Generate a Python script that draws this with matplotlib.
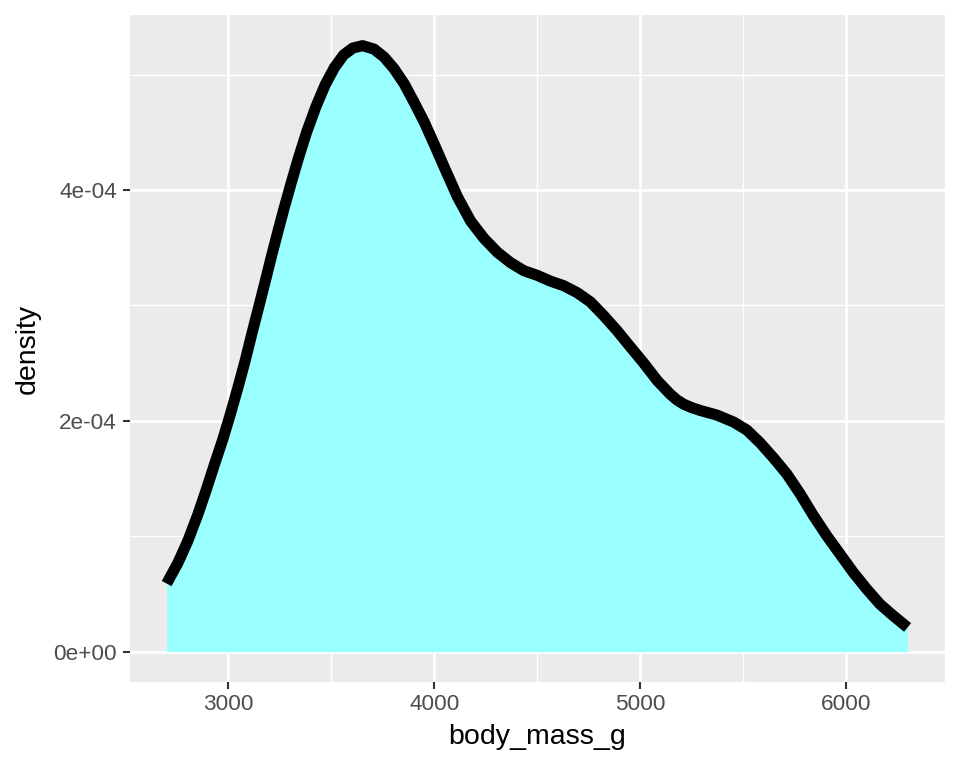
import matplotlib
matplotlib.use("Agg")
import matplotlib.pyplot as plt
from matplotlib.ticker import FixedLocator

plt.rcParams['font.family'] = ['Liberation Sans', 'DejaVu Sans']

body_mass_g = [2700, 2755, 2803, 2852, 2892, 2932, 2973, 3010, 3045, 3080,
               3112, 3145, 3178, 3210, 3242, 3272, 3305, 3341, 3380, 3425,
               3470, 3515, 3560, 3605, 3652, 3708, 3757, 3805, 3854, 3902,
               3951, 3999, 4048, 4113, 4177, 4242, 4307, 4371, 4436, 4501,
               4565, 4630, 4695, 4759, 4824, 4889, 4953, 5018, 5083, 5147,
               5180, 5211, 5250, 5292, 5373, 5454, 5519, 5583, 5648, 5713,
               5777, 5842, 5907, 5971, 6036, 6101, 6165, 6230, 6300]
density = [0.59, 0.77, 0.96, 1.19, 1.40, 1.62, 1.84, 2.06, 2.28, 2.51,
           2.74, 2.97, 3.20, 3.43, 3.65, 3.85, 4.06, 4.28, 4.50, 4.72,
           4.91, 5.06, 5.17, 5.23, 5.25, 5.22, 5.15, 5.05, 4.92, 4.76,
           4.59, 4.40, 4.20, 3.94, 3.73, 3.58, 3.46, 3.37, 3.30, 3.26,
           3.21, 3.17, 3.11, 3.03, 2.91, 2.78, 2.64, 2.50, 2.35, 2.23,
           2.18, 2.145, 2.115, 2.09, 2.05, 1.99, 1.92, 1.81, 1.68, 1.54,
           1.37, 1.18, 1.005, 0.847, 0.687, 0.543, 0.413, 0.312, 0.21]
density = [d * 1e-4 for d in density]

x_ticks = [3000, 4000, 5000, 6000]
x_minor = [3500, 4500, 5500]
y_ticks = [0, 2e-4, 4e-4]
y_tick_labels = ["0e+00", "2e-04", "4e-04"]
y_minor = [1e-4, 3e-4, 5e-4]

fig = plt.figure(figsize=(9.6, 7.68), dpi=100)
ax = fig.add_axes([0.135, 0.112, 0.849, 0.868])
ax.set_facecolor('#EBEBEB')

ax.fill_between(body_mass_g, density, 0, color='#99FFFF', linewidth=0, zorder=2)
ax.plot(body_mass_g, density, color='black', linewidth=8,
        solid_capstyle='butt', solid_joinstyle='round', zorder=3)

xr = max(body_mass_g) - min(body_mass_g)
ax.set_xlim(min(body_mass_g) - 0.05 * xr, max(body_mass_g) + 0.05 * xr)
ymax = max(density)
ax.set_ylim(-0.05 * ymax, ymax * 1.05)

ax.xaxis.set_major_locator(FixedLocator(x_ticks))
ax.xaxis.set_minor_locator(FixedLocator(x_minor))
ax.yaxis.set_major_locator(FixedLocator(y_ticks))
ax.yaxis.set_minor_locator(FixedLocator(y_minor))
ax.set_yticklabels(y_tick_labels)

ax.grid(which='major', color='white', linewidth=1.9, zorder=1)
ax.grid(which='minor', color='white', linewidth=0.95, zorder=1)
ax.set_axisbelow(True)
for s in ax.spines.values():
    s.set_visible(False)

ax.tick_params(axis='both', which='major', length=5, width=1.5, color='#333333',
               labelsize=16.2, labelcolor='#4D4D4D', pad=4)
ax.tick_params(axis='both', which='minor', length=0)

ax.set_xlabel('body_mass_g', fontsize=20.5, color='black', labelpad=6)
ax.set_ylabel('density', fontsize=20.5, color='black', labelpad=9)

fig.savefig('out.png', dpi=100, facecolor='white')
